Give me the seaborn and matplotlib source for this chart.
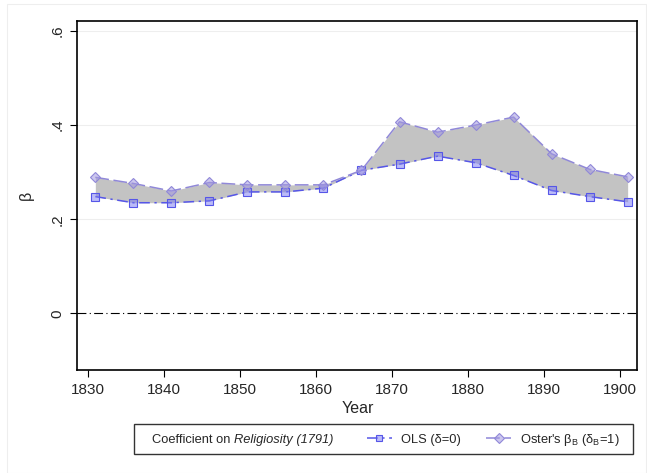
import numpy as np
import pandas as pd
import seaborn as sns
import matplotlib
matplotlib.use("Agg")
from matplotlib import pyplot as plt
from matplotlib.lines import Line2D
from matplotlib.patches import Rectangle

# values
years = [1831, 1836, 1841, 1846, 1851, 1856, 1861, 1866, 1871, 1876, 1881, 1886, 1891, 1896, 1901]
ols = [0.248, 0.235, 0.235, 0.239, 0.258, 0.258, 0.266, 0.304, 0.317, 0.334, 0.320, 0.293, 0.261, 0.248, 0.237]
oster = [0.289, 0.276, 0.260, 0.278, 0.273, 0.273, 0.273, 0.304, 0.407, 0.385, 0.400, 0.417, 0.339, 0.306, 0.290]
xticks = [1830, 1840, 1850, 1860, 1870, 1880, 1890, 1900]
yticks = [0, 0.2, 0.4, 0.6]
ytick_labels = ["0", ".2", ".4", ".6"]

sns.set_theme(style="white")
plt.rcParams['font.family'] = ['Liberation Sans', 'DejaVu Sans']
plt.rcParams['mathtext.fontset'] = 'custom'
plt.rcParams['mathtext.rm'] = 'Liberation Sans'
plt.rcParams['mathtext.it'] = 'Liberation Sans:italic'

df = pd.DataFrame({"Year": years, "OLS": ols, "Oster": oster})

fig = plt.figure(figsize=(6.47, 4.73), dpi=100)
ax = fig.add_axes([77.3 / 647, 1 - 370 / 473, (637.3 - 77.3) / 647, (370 - 21.3) / 473])

ols_col = "#5656e8"
ost_col = "#9088d8"
ols_face = (0.47, 0.47, 0.95, 0.5)
ost_face = (0.64, 0.60, 0.88, 0.55)

for v in yticks[1:]:
    ax.axhline(v, color="#eeeeee", lw=0.8, zorder=0)
ax.axhline(0, color="black", lw=0.8, ls=(0, (8, 3, 1, 3)), zorder=1)

ax.fill_between(df["Year"], df["OLS"], df["Oster"], color="#c3c3c3", lw=0, zorder=2)

sns.lineplot(data=df, x="Year", y="OLS", ax=ax, color=ols_col, lw=1.1,
             marker="s", markersize=5.2, markerfacecolor=ols_face,
             markeredgecolor=ols_col, markeredgewidth=0.8, zorder=3)
ax.lines[-1].set_dashes([7, 3, 1.5, 3])
sns.lineplot(data=df, x="Year", y="Oster", ax=ax, color=ost_col, lw=1.1,
             marker="D", markersize=5.5, markerfacecolor=ost_face,
             markeredgecolor=ost_col, markeredgewidth=0.8, zorder=3)
ax.lines[-1].set_dashes([9, 3])

ax.set_xlim(1828.63, 1902.27)
ax.set_ylim(-0.1205, 0.6206)
ax.set_xticks(xticks)
ax.set_xticklabels([str(t) for t in xticks], fontsize=11)
ax.set_yticks(yticks)
ax.set_yticklabels(ytick_labels, fontsize=11, rotation=90, va="center")
ax.tick_params(axis="both", direction="out", length=5, width=0.8, color="black",
               bottom=True, left=True, pad=4)
ax.set_xlabel("Year", fontsize=11.5, labelpad=3)
ax.set_ylabel("β", fontsize=11.5, labelpad=12)

for s in ax.spines.values():
    s.set_visible(True)
    s.set_color("black")
    s.set_linewidth(1.2)

# legend box below the plot
fig.patches.append(Rectangle((134 / 647, 1 - 454 / 473), (633 - 134) / 647, 30 / 473,
                             transform=fig.transFigure, fill=False, ec="#333333", lw=1.0))
fig.patches.append(Rectangle((6.5 / 647, 0.0), (647 - 8) / 647, 1 - 4.5 / 473,
                             transform=fig.transFigure, fill=False, ec="#eeeeee", lw=0.8))
leg_y = 1 - 440 / 473
t1 = fig.text(151.5 / 647, leg_y, "Coefficient on ", fontsize=9.3, va="center", ha="left")
fig.canvas.draw()
bb = t1.get_window_extent()
fig.text(bb.x1 / fig.bbox.width, leg_y, "Religiosity (1791)", fontsize=9.3,
         fontstyle="italic", va="center", ha="left")

h1 = Line2D([], [], color=ols_col, lw=1.1, dashes=[7, 3, 1.5, 3], marker="s", markersize=5,
            markerfacecolor=ols_face, markeredgecolor=ols_col, markeredgewidth=0.8)
h2 = Line2D([], [], color=ost_col, lw=1.1, dashes=[9, 3], marker="D", markersize=5.5,
            markerfacecolor=ost_face, markeredgecolor=ost_col, markeredgewidth=0.8)
fig.legend([h1, h2], ["OLS (δ=0)", r"Oster's β$_\mathrm{B}$ (δ$_\mathrm{B}$=1)"],
           loc="center left", bbox_to_anchor=(367 / 647, leg_y), ncol=2,
           frameon=False, fontsize=9.3, handlelength=1.9, handletextpad=0.7,
           columnspacing=2.0, borderpad=0, borderaxespad=0)

fig.savefig("out.png", dpi=100)
